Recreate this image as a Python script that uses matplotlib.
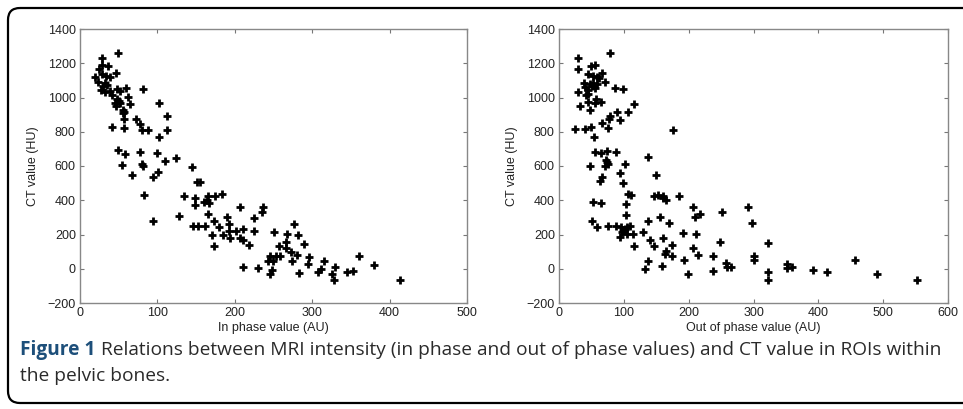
import matplotlib
matplotlib.use("Agg")
import matplotlib.pyplot as plt
from matplotlib.patches import FancyBboxPatch
import numpy as np

plt.rcParams['font.family'] = ['Liberation Sans', 'DejaVu Sans']

# in phase value (AU) vs CT value (HU)
in_phase = [29, 49, 29, 36, 24, 19, 28, 34, 39, 23, 32, 30, 35, 27, 32, 39, 47, 48, 52, 59,
            41, 48, 51, 62, 45, 52, 65, 46, 82, 102, 55, 56, 57, 113, 57, 72, 78, 80, 88, 113,
            57, 41, 102, 49, 58, 77, 99, 124, 110, 54, 80, 82, 145, 67, 94, 101,
            83, 94, 134, 128, 151, 155, 149, 149, 160, 164, 166, 167, 175, 183, 166, 146, 153, 162,
            173, 180, 170, 173, 185, 190, 192, 192, 194, 202, 207, 210, 207, 211, 218, 211, 225, 225,
            230, 235, 237, 250, 257, 243, 246, 249, 253, 258, 248, 245, 266, 266, 267, 272, 274, 277,
            281, 282, 289, 283, 296, 295, 315, 308, 311, 326, 328, 330, 345, 353, 361, 380, 413]
ct_in = [1232, 1261, 1191, 1184, 1166, 1121, 1135, 1125, 1118, 1089, 1083, 1069, 1073, 1044, 1034, 1038, 1145, 1050, 1040, 1054,
         1015, 989, 980, 1005, 966, 966, 962, 950, 1050, 968, 927, 911, 917, 892, 873, 873, 845, 810, 810, 810,
         820, 826, 770, 692, 671, 680, 675, 649, 632, 606, 612, 599, 597, 546, 535, 564,
         430, 276, 426, 309, 505, 509, 412, 373, 392, 402, 422, 383, 422, 437, 317, 247, 247, 247,
         276, 241, 198, 134, 198, 305, 262, 223, 177, 223, 360, 233, 179, 165, 136, 13, 299, 223,
         4, 330, 360, 214, 130, 48, 76, 48, 76, 76, -6, -33, 157, 121, 202, 95, 45, 264,
         80, 198, 144, -25, 70, 25, 48, -19, -2, -31, -68, 8, -17, -13, 72, 22, -68]

# out of phase value (AU) vs CT value (HU)
out_phase = [30, 79, 30, 49, 55, 44, 53, 58, 62, 67, 39, 40, 48, 53, 58, 51, 45, 56, 71, 30,
             42, 45, 87, 98, 57, 65, 45, 56, 32, 48, 116, 90, 107, 79, 77, 94, 66, 75, 24, 40,
             49, 176, 54, 56, 65, 74, 88, 73, 74, 71, 76, 48, 102, 137, 94, 150, 66,
             63, 99, 52, 65, 107, 111, 103, 103, 51, 58, 75, 88, 95, 99, 102, 105, 110, 97, 101,
             94, 105, 114, 116, 137, 130, 140, 146, 137, 133, 147, 152, 160, 161, 165, 156, 160, 170,
             164, 165, 174, 174, 159, 185, 192, 193, 199, 206, 209, 218, 211, 207, 215, 238, 238, 251,
             249, 258, 259, 265, 291, 297, 301, 301, 322, 322, 322, 351, 351, 360, 392, 414, 457, 490, 552]
ct_out = [1232, 1261, 1164, 1184, 1191, 1135, 1127, 1121, 1115, 1145, 1083, 1063, 1079, 1083, 1077, 1067, 1044, 1054, 1089, 1030,
          1015, 1020, 1054, 1048, 991, 976, 976, 966, 952, 927, 960, 917, 914, 892, 873, 869, 853, 824, 815, 815,
          830, 810, 771, 680, 675, 690, 680, 636, 622, 601, 610, 602, 612, 651, 562, 548, 538,
          515, 503, 392, 383, 437, 428, 377, 311, 276, 245, 249, 251, 241, 227, 233, 243, 251, 214, 220,
          183, 204, 202, 134, 276, 214, 169, 134, 47, -2, 422, 431, 427, 412, 402, 305, 179, 266,
          86, 101, 140, 76, 17, 422, 208, 52, -29, 363, 305, 321, 202, 121, 82, 76, -12, 332,
          159, 33, 8, 13, 360, 266, 76, 52, 150, -19, -64, 27, 4, 12, -10, -17, 52, -29, -64]

W, H = 963, 409
fig = plt.figure(figsize=(W / 100, H / 100), dpi=100)

# rounded frame around the figure
bg = fig.add_axes([0, 0, 1, 1])
bg.set_xlim(0, W)
bg.set_ylim(H, 0)
bg.axis('off')
bg.add_patch(FancyBboxPatch((8, 8), W + 20, H - 14, boxstyle="round,pad=0,rounding_size=12",
                            fill=False, ec='black', lw=1.6))


def scatter_panel(rect, x, y, xmax, xlabel):
    ax = fig.add_axes(rect)
    ax.plot(x, y, '+', color='black', markersize=6, mew=2)
    ax.set_xlim(0, xmax)
    ax.set_ylim(-200, 1400)
    ax.set_xticks(np.arange(0, xmax + 1, 100))
    ax.set_yticks(np.arange(-200, 1401, 200))
    ax.tick_params(direction='in', top=True, right=True, length=3, width=0.8,
                   color='#777777', labelsize=9, pad=3, labelcolor='#222222')
    for s in ax.spines.values():
        s.set_color('#888888')
        s.set_linewidth(1.0)
    ax.set_xlabel(xlabel, fontsize=9, labelpad=2, color='#222222')
    ax.set_ylabel('CT value (HU)', fontsize=9, labelpad=6, color='#222222')
    return ax


top = 29
bottom = 303
scatter_panel([80 / W, 1 - bottom / H, 387 / W, (bottom - top) / H],
              in_phase, ct_in, 500, 'In phase value (AU)')
scatter_panel([559 / W, 1 - bottom / H, 389 / W, (bottom - top) / H],
              out_phase, ct_out, 600, 'Out of phase value (AU)')

# caption
cap_font = ['Open Sans', 'DejaVu Sans']
cap_size = 13.8
t1 = bg.text(20, 350, 'Figure 1', fontsize=cap_size, fontweight='bold', color='#1d4f7a',
             family=cap_font, va='center', ha='left')
fig.canvas.draw()
bb = t1.get_window_extent()
bg.text(20 + bb.width + 6, 350,
        'Relations between MRI intensity (in phase and out of phase values) and CT value in ROIs within',
        fontsize=cap_size, color='#2a2a2a', family=cap_font, va='center', ha='left')
bg.text(20, 376, 'the pelvic bones.', fontsize=cap_size, color='#2a2a2a', family=cap_font,
        va='center', ha='left')

plt.savefig('out.png', dpi=100)
